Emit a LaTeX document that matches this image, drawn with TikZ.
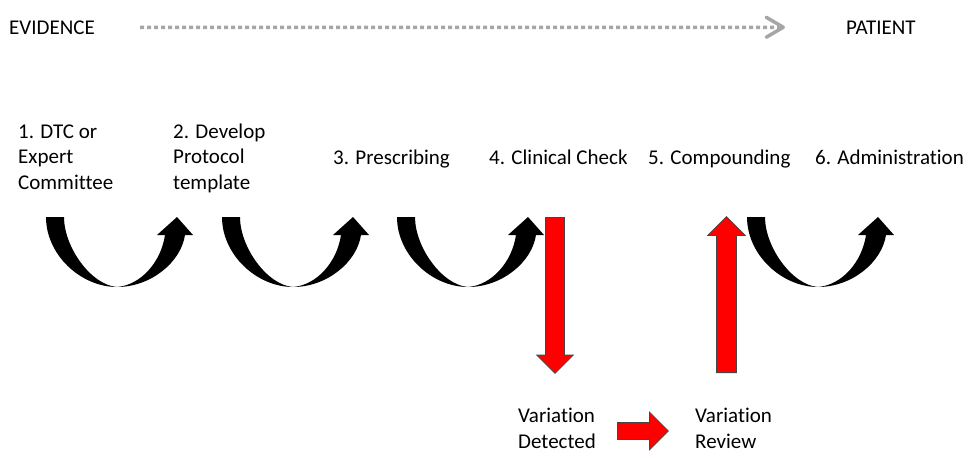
\documentclass[tikz,border=0pt]{standalone}
\usepackage{fontspec}
\setmainfont{Carlito}[Ligatures=NoCommon]
\usetikzlibrary{arrows.meta,shapes.arrows}
\definecolor{dotgray}{RGB}{166,166,166}
\definecolor{edgegray}{RGB}{70,70,70}
\tikzset{
  steptext/.style={anchor=base west, inner sep=0pt, align=left, font=\fontsize{21}{25.7}\selectfont},
  flow/.style={draw=dotgray, line width=3.5pt, dash pattern=on 4pt off 3pt,
    -{Straight Barb[length=17pt,width=20pt,round]}, shorten <=45pt, shorten >=61pt},
  redarrow/.style={single arrow, draw=edgegray, line width=0.8pt, fill=red, anchor=tail,
    inner xsep=0pt, single arrow head extend=9pt},
  uturn/.pic={
    \fill (0,0) .. controls (0,38) and (35,70) .. (71,70)
      .. controls (105,70) and (135,45) .. (139,18) -- (147,18) -- (131,0) -- (111,18) -- (119,18)
      .. controls (115,45) and (95,68) .. (71,70)
      .. controls (45,68) and (18,30) .. (18,0) -- cycle;
  }
}
\begin{document}
\begin{tikzpicture}[x=1pt,y=-1pt]
\useasboundingbox (0,0) rectangle (968,453);
% evidence to patient
\node[steptext] (evidence) at (9,34) {EVIDENCE};
\node[steptext] (patient) at (846,34) {PATIENT};
\draw[flow] (evidence) -- (patient);
% steps (base = last line)
\node[steptext] (step1) at (18,189.5) {1. DTC or\\Expert\\Committee};
\node[steptext] (step2) at (173,189.5) {2. Develop\\Protocol\\template};
\node[steptext] (step3) at (333,164.5) {3. Prescribing};
\node[steptext] (step4) at (489,164.5) {4. Clinical Check};
\node[steptext] (step5) at (648,164.5) {5. Compounding};
\node[steptext] (step6) at (815,164.5) {6. Administration};
\foreach \xo in {46,222,397,747}
  \pic at (\xo,217) {uturn};
% variation loop
\node[steptext] (detected) at (518,448.5) {Variation\\Detected};
\node[steptext] (review) at (695,448.5) {Variation\\Review};
\node[redarrow, rotate=-90, minimum height=156pt, inner ysep=9pt] (down) at (555,217) {};
\node[redarrow, rotate=90, minimum height=156pt, inner ysep=9.5pt] (up) at (726.5,373) {};
\node[redarrow, minimum height=51pt, inner ysep=8pt, single arrow head extend=10.5pt] (across) at (617,431) {};
\end{tikzpicture}
\end{document}
